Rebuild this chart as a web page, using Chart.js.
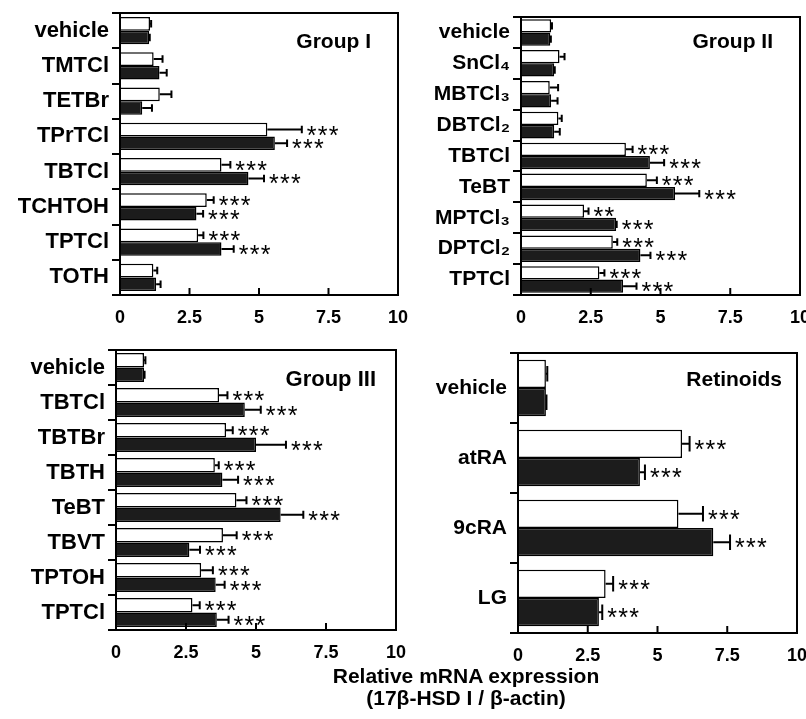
<!DOCTYPE html>
<html>
<head>
<meta charset="utf-8">
<script src="https://cdn.jsdelivr.net/npm/chart.js@4"></script>
<style>
  body { margin: 0; width: 806px; height: 719px; background: #fff; position: relative; overflow: hidden;
         font-family: "Liberation Sans", Arial, sans-serif; }
  canvas { position: absolute; }
  #xtitle { position: absolute; left: 266px; width: 400px; top: 665px; text-align: center;
            font-weight: bold; font-size: 21px; line-height: 22px; color: #000; }
</style>
</head>
<body>
<canvas id="g1" width="412" height="335" style="left:0;top:0"></canvas>
<canvas id="g2" width="406" height="335" style="left:400px;top:0"></canvas>
<canvas id="g3" width="412" height="330" style="left:0;top:335px"></canvas>
<canvas id="g4" width="406" height="330" style="left:400px;top:335px"></canvas>
<div id="xtitle">Relative mRNA expression<br>(17β-HSD I / β-actin)</div>
<script>
// x axis ticks (same for all panels)
const xTicks = [0, 2.5, 5, 7.5, 10];

// Group I
const g1Labels = ["vehicle", "TMTCl", "TETBr", "TPrTCl", "TBTCl", "TCHTOH", "TPTCl", "TOTH"];
const g1White = [1.08, 1.21, 1.43, 5.3, 3.65, 3.12, 2.81, 1.2];
const g1WhiteErr = [0.04, 0.32, 0.42, 1.24, 0.32, 0.25, 0.19, 0.14];
const g1WhiteSig = ["", "", "", "***", "***", "***", "***", ""];
const g1Dark = [1.05, 1.42, 0.8, 5.57, 4.62, 2.75, 3.65, 1.3];
const g1DarkErr = [0.02, 0.26, 0.35, 0.44, 0.56, 0.24, 0.44, 0.16];
const g1DarkSig = ["", "", "", "***", "***", "***", "***", ""];

// Group II
const g2Labels = ["vehicle", "SnCl₄", "MBTCl₃", "DBTCl₂", "TBTCl", "TeBT", "MPTCl₃", "DPTCl₂", "TPTCl"];
const g2White = [1.08, 1.38, 1.03, 1.34, 3.76, 4.51, 2.26, 3.29, 2.81];
const g2WhiteErr = [0.03, 0.18, 0.3, 0.12, 0.24, 0.36, 0.16, 0.16, 0.18];
const g2WhiteSig = ["", "", "", "", "***", "***", "**", "***", "***"];
const g2Dark = [1.05, 1.19, 1.08, 1.19, 4.62, 5.52, 3.41, 4.28, 3.66];
const g2DarkErr = [0.02, 0.02, 0.23, 0.2, 0.51, 0.87, 0.02, 0.36, 0.48];
const g2DarkSig = ["", "", "", "", "***", "***", "***", "***", "***"];

// Group III
const g3Labels = ["vehicle", "TBTCl", "TBTBr", "TBTH", "TeBT", "TBVT", "TPTOH", "TPTCl"];
const g3White = [1.0, 3.68, 3.93, 3.53, 4.3, 3.82, 3.04, 2.73];
const g3WhiteErr = [0.05, 0.3, 0.24, 0.14, 0.36, 0.49, 0.42, 0.26];
const g3WhiteSig = ["", "***", "***", "***", "***", "***", "***", "***"];
const g3Dark = [1.0, 4.6, 5.0, 3.8, 5.88, 2.62, 3.56, 3.6];
const g3DarkErr = [0.02, 0.57, 1.07, 0.56, 0.81, 0.38, 0.32, 0.42];
const g3DarkSig = ["", "***", "***", "***", "***", "***", "***", "***"];

// Retinoids
const g4Labels = ["vehicle", "atRA", "9cRA", "LG"];
const g4White = [1.0, 5.88, 5.75, 3.14];
const g4WhiteErr = [0.05, 0.27, 0.88, 0.27];
const g4WhiteSig = ["", "***", "***", "***"];
const g4Dark = [1.0, 4.37, 7.0, 2.9];
const g4DarkErr = [0.02, 0.18, 0.6, 0.12];
const g4DarkSig = ["", "***", "***", "***"];

const FONT = "'Liberation Sans', Arial, sans-serif";

// box, inner x ticks, error bars, stars, panel title
const decor = {
  id: "decor",
  afterDatasetsDraw(chart, args, opts) {
    const { ctx, chartArea: a, scales: { x } } = chart;
    ctx.save();
    ctx.strokeStyle = "#000";
    ctx.fillStyle = "#000";
    ctx.lineWidth = 2;
    ctx.strokeRect(a.left, a.top, a.right - a.left, a.bottom - a.top);
    xTicks.slice(1, -1).forEach((v) => {
      const px = x.getPixelForValue(v);
      ctx.beginPath();
      ctx.moveTo(px, a.bottom);
      ctx.lineTo(px, a.bottom - 7);
      ctx.stroke();
    });

    chart.data.datasets.forEach((ds, di) => {
      chart.getDatasetMeta(di).data.forEach((bar, i) => {
        const end = x.getPixelForValue(ds.data[i] + ds.errors[i]);
        const cap = bar.height * 0.55;
        ctx.lineWidth = 2;
        ctx.beginPath();
        ctx.moveTo(bar.x, bar.y);
        ctx.lineTo(end, bar.y);
        ctx.moveTo(end, bar.y - cap / 2);
        ctx.lineTo(end, bar.y + cap / 2);
        ctx.stroke();
        const sig = ds.sig[i];
        if (sig) {
          ctx.font = "25px " + FONT;
          ctx.textAlign = "left";
          ctx.textBaseline = "alphabetic";
          for (let k = 0; k < sig.length; k++) {
            ctx.fillText("*", end + 5 + k * 11, bar.y + 14);
          }
        }
      });
    });

    ctx.font = "bold " + opts.titleSize + "px " + FONT;
    ctx.textAlign = "right";
    ctx.textBaseline = "alphabetic";
    ctx.fillText(opts.title, a.right - opts.titleRight, a.top + opts.titleDown);
    ctx.restore();
  },
};

function makePanel(id, labels, white, whiteErr, whiteSig, dark, darkErr, darkSig, look) {
  new Chart(document.getElementById(id), {
    type: "bar",
    data: {
      labels: labels,
      datasets: [
        { data: white, errors: whiteErr, sig: whiteSig, backgroundColor: "#fff",
          borderColor: "#000", borderWidth: 1.5 },
        { data: dark, errors: darkErr, sig: darkSig, backgroundColor: "#1c1c1c",
          borderColor: "#000", borderWidth: 1.5 },
      ],
    },
    options: {
      indexAxis: "y",
      responsive: false,
      animation: false,
      barPercentage: 1,
      categoryPercentage: look.catPct,
      layout: { padding: { top: look.top, right: look.right, left: 0, bottom: 0 } },
      plugins: {
        legend: { display: false },
        tooltip: { enabled: false },
        decor: { title: look.title, titleSize: look.titleSize, titleRight: look.titleRight, titleDown: look.titleDown },
      },
      scales: {
        x: {
          min: 0, max: 10,
          afterBuildTicks: (s) => { s.ticks = xTicks.map((v) => ({ value: v })); },
          grid: { display: false, drawTicks: false },
          border: { display: false },
          ticks: { color: "#000", padding: 12, font: { family: FONT, size: 18, weight: "bold" } },
          afterFit: (s) => { s.height = look.xh; s.paddingLeft = 0; s.paddingRight = 0; },
        },
        y: {
          grid: { display: true, drawOnChartArea: false, drawTicks: true, tickLength: 8, color: "#000", lineWidth: 2 },
          border: { display: false },
          ticks: { color: "#000", padding: 3, font: { family: FONT, size: look.labelSize, weight: "bold" } },
          afterFit: (s) => { s.width = look.yw; s.paddingTop = 0; s.paddingBottom = 0; },
        },
      },
    },
    plugins: [decor],
  });
}

makePanel("g1", g1Labels, g1White, g1WhiteErr, g1WhiteSig, g1Dark, g1DarkErr, g1DarkSig,
  { catPct: 0.77, top: 13, right: 14, xh: 40, yw: 120, labelSize: 22, title: "Group I", titleSize: 21, titleRight: 27, titleDown: 35 });
makePanel("g2", g2Labels, g2White, g2WhiteErr, g2WhiteSig, g2Dark, g2DarkErr, g2DarkSig,
  { catPct: 0.86, top: 17, right: 6, xh: 40, yw: 121, labelSize: 21, title: "Group II", titleSize: 21, titleRight: 27, titleDown: 31 });
makePanel("g3", g3Labels, g3White, g3WhiteErr, g3WhiteSig, g3Dark, g3DarkErr, g3DarkSig,
  { catPct: 0.83, top: 15, right: 16, xh: 35, yw: 116, labelSize: 22, title: "Group III", titleSize: 22, titleRight: 20, titleDown: 36 });
makePanel("g4", g4Labels, g4White, g4WhiteErr, g4WhiteSig, g4Dark, g4DarkErr, g4DarkSig,
  { catPct: 0.81, top: 18, right: 9, xh: 32, yw: 118, labelSize: 21, title: "Retinoids", titleSize: 21, titleRight: 15, titleDown: 33 });
</script>
</body>
</html>
